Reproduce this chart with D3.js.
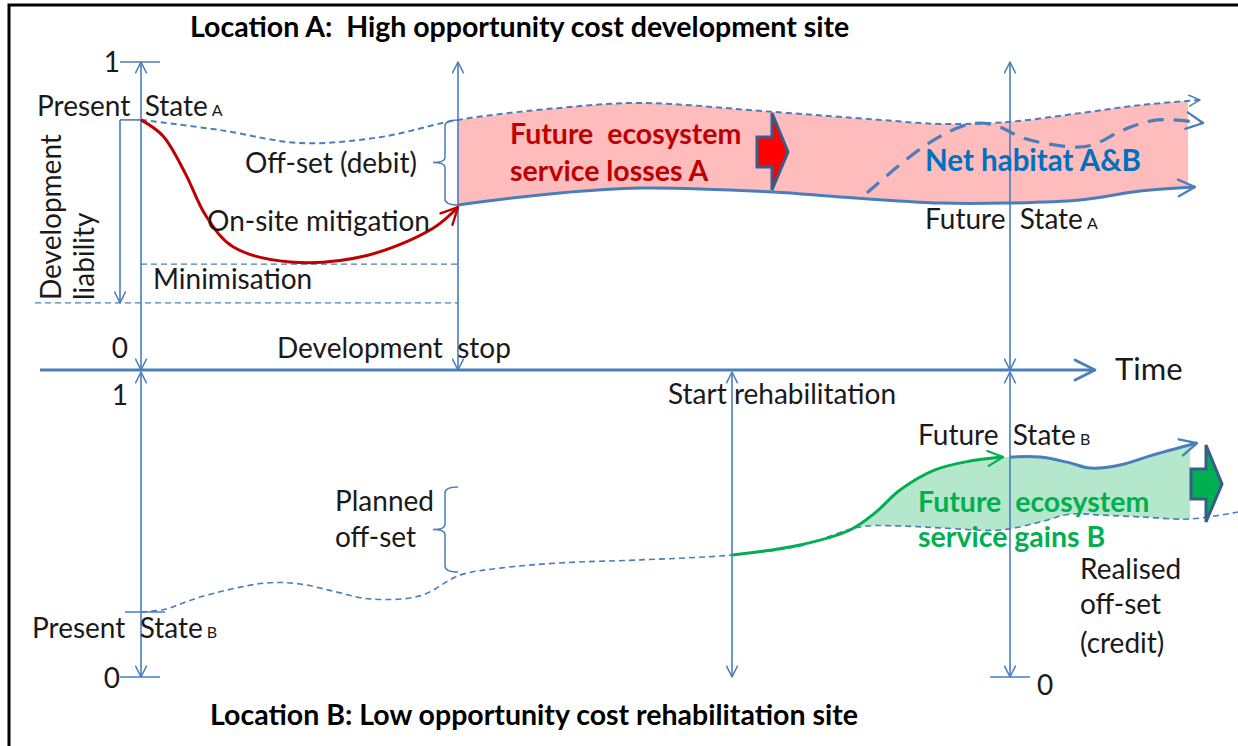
<!DOCTYPE html>
<html>
<head>
<meta charset="utf-8">
<script src="https://cdn.jsdelivr.net/npm/d3@7"></script>
<style>
  body { margin: 0; background: #fff; }
  text { font-family: Lato, "Open Sans", sans-serif; white-space: pre; }
</style>
</head>
<body>
<svg id="chart" width="1238" height="746"></svg>
<script>
// time runs in arbitrary units, both panels measure 0..1 ecosystem value
var tPresent = 0, tStop = 31.7, tRehab = 59.1, tFuture = 86.9;
var timeAxisFrom = -10.1, timeAxisTo = 95.4;
var presentA = 0.812, minimisationA = 0.344, liabilityA = 0.218;
var presentB = 0.213;

// location A: value without development (dashed)
var baselineA = [[0, 0.812], [7.9, 0.779], [15.9, 0.737], [23.9, 0.756], [31.7, 0.812], [41.9, 0.851],
  [49.9, 0.867], [63.2, 0.838], [73.9, 0.812], [79.9, 0.799], [86.6, 0.805], [93.9, 0.834],
  [99.9, 0.860], [105.9, 0.877]];
// location A: on-site mitigation path
var mitigationA = [[0, 0.812], [2.2, 0.760], [4.4, 0.640], [6.5, 0.500], [9.2, 0.400], [14.9, 0.351],
  [22.6, 0.372], [29.2, 0.460], [31.7, 0.529]];
// location A: future state after development
var futureA = [[31.7, 0.536], [41.9, 0.575], [49.9, 0.591], [63.2, 0.578], [69.9, 0.562], [79.9, 0.542],
  [86.6, 0.542], [93.9, 0.552], [99.9, 0.581], [105.4, 0.594]];
// net habitat A&B
var netHabitat = [[72.6, 0.575], [78.2, 0.724], [81.9, 0.789], [83.9, 0.802], [85.9, 0.789], [88.2, 0.753],
  [93.2, 0.724], [95.2, 0.731], [98.2, 0.779], [101.6, 0.812], [106.2, 0.802]];
var pinkEnd = 104.7;

// location B: value without rehabilitation (dashed)
var baselineB = [[0, 0.213], [2.4, 0.222], [5.9, 0.262], [12.4, 0.308], [15.9, 0.305], [19.4, 0.280],
  [22.9, 0.256], [27.9, 0.266], [31.9, 0.334], [35.9, 0.357], [41.9, 0.374], [49.9, 0.384],
  [59.1, 0.400], [65.9, 0.430], [71.9, 0.492], [75.9, 0.495], [79.9, 0.489], [85.9, 0.482],
  [89.9, 0.508], [92.9, 0.534], [95.9, 0.531], [99.9, 0.525], [104.9, 0.518], [109.7, 0.541]];
// location B: rehabilitation path
var rehabB = [[59.1, 0.400], [65.9, 0.433], [70.9, 0.482], [73.4, 0.538], [75.9, 0.613], [79.4, 0.679],
  [82.9, 0.708], [86.2, 0.721]];
// location B: future state
var futureB = [[86.9, 0.721], [89.9, 0.721], [92.9, 0.702], [94.9, 0.685], [97.9, 0.695], [100.9, 0.725],
  [105.6, 0.767]];
var greenFrom = 66, greenEnd = 104.9;

var blue = "#4a7ebb", darkBlue = "#385d8a";

var svg = d3.select("#chart");
var x = d3.scaleLinear().domain([0, 110]).range([141, 1241]);
var yA = d3.scaleLinear().domain([0, 1]).range([370, 62]);
var yB = d3.scaleLinear().domain([0, 1]).range([677, 372]);

var lineA = d3.line().x(function(d) { return x(d[0]); }).y(function(d) { return yA(d[1]); })
  .curve(d3.curveCatmullRom.alpha(0.5));
var lineB = d3.line().x(function(d) { return x(d[0]); }).y(function(d) { return yB(d[1]); })
  .curve(d3.curveCatmullRom.alpha(0.5));

var defs = svg.append("defs");
function marker(id, color, size) {
  defs.append("marker").attr("id", id)
    .attr("viewBox", "0 0 12 12").attr("refX", 11).attr("refY", 6)
    .attr("markerWidth", size).attr("markerHeight", size)
    .attr("markerUnits", "userSpaceOnUse").attr("orient", "auto-start-reverse")
    .append("path").attr("d", "M1,1 L11,6 L1,11")
    .attr("fill", "none").attr("stroke", color).attr("stroke-width", 1.4)
    .attr("stroke-linecap", "round").attr("stroke-linejoin", "round");
}
marker("arrSmall", blue, 13);
marker("arrMid", blue, 20);
marker("arrBig", blue, 24);
marker("arrRed", "#c00000", 20);
marker("arrGreen", "#00b050", 18);

function clip(id, t0, t1) {
  defs.append("clipPath").attr("id", id).append("rect")
    .attr("x", x(t0)).attr("y", 0).attr("width", x(t1) - x(t0)).attr("height", 746);
}
clip("clipPink", tStop, pinkEnd);
clip("clipGreen", greenFrom, greenEnd);

// frame
svg.append("path").attr("d", "M9,746 V5 H1238").attr("fill", "none").attr("stroke", "#000").attr("stroke-width", 3);

// fills
function band(gen, top, bottom) {
  return gen(top) + gen(bottom.slice().reverse()).replace("M", "L") + "Z";
}
svg.append("path")
  .attr("d", band(lineA, baselineA.filter(function(d) { return d[0] >= tStop; }), futureA))
  .attr("fill", "#ffbcbc").attr("clip-path", "url(#clipPink)");
svg.append("path")
  .attr("d", band(lineB, rehabB.concat(futureB), baselineB.filter(function(d) { return d[0] >= tRehab; })))
  .attr("fill", "#b4e7cb").attr("clip-path", "url(#clipGreen)");

// thin dashed guides
function hDash(y, x0, x1) {
  svg.append("line").attr("x1", x0).attr("x2", x1).attr("y1", y).attr("y2", y)
    .attr("stroke", blue).attr("stroke-width", 1.3).attr("stroke-dasharray", "6,4");
}
hDash(yA(minimisationA), x(tPresent), x(tStop));
hDash(yA(liabilityA), 35, x(tStop));

// baselines
svg.append("path").attr("d", lineA(baselineA)).attr("fill", "none").attr("stroke", blue)
  .attr("stroke-width", 2).attr("stroke-dasharray", "6,4").attr("marker-end", "url(#arrSmall)");
svg.append("path").attr("d", lineB(baselineB)).attr("fill", "none").attr("stroke", blue)
  .attr("stroke-width", 1.6).attr("stroke-dasharray", "6,4");

// vertical axes
function vLine(xp, y1, y2, both) {
  svg.append("line").attr("x1", xp).attr("x2", xp).attr("y1", y1).attr("y2", y2)
    .attr("stroke", blue).attr("stroke-width", 1.6)
    .attr("marker-start", both ? "url(#arrSmall)" : null)
    .attr("marker-end", "url(#arrSmall)");
}
function hTick(y, x0, x1) {
  svg.append("line").attr("x1", x0).attr("x2", x1).attr("y1", y).attr("y2", y)
    .attr("stroke", blue).attr("stroke-width", 1.6);
}
vLine(x(tPresent), yA(1), yA(0), true);
vLine(x(tPresent), yB(1), yB(0), true);
vLine(x(tStop), yA(1), yA(0), true);
vLine(x(tRehab), yB(1), yB(0), true);
vLine(x(tFuture), yA(1), yA(0), true);
vLine(x(tFuture), yB(1), yB(0), true);
hTick(yA(1), x(tPresent) - 21, x(tPresent) + 19);
hTick(yB(0), x(tPresent) - 21, x(tPresent) + 19);
hTick(yB(0), x(tFuture) - 20, x(tFuture) + 20);
hTick(yB(presentB), x(tPresent) - 16, x(tPresent) + 24);
hTick(yA(presentA), x(tPresent) - 21, x(tPresent));
// development liability arrow
svg.append("line").attr("x1", x(tPresent) - 21).attr("x2", x(tPresent) - 21)
  .attr("y1", yA(presentA)).attr("y2", yA(liabilityA))
  .attr("stroke", blue).attr("stroke-width", 1.6).attr("marker-end", "url(#arrSmall)");

// time axis
svg.append("line").attr("x1", x(timeAxisFrom)).attr("x2", x(timeAxisTo)).attr("y1", yA(0)).attr("y2", yA(0))
  .attr("stroke", blue).attr("stroke-width", 3).attr("marker-end", "url(#arrBig)");

// braces
function brace(xp, top, bottom) {
  var mid = (top + bottom) / 2;
  var p = d3.path();
  p.moveTo(xp + 13, top);
  p.quadraticCurveTo(xp, top, xp, top + 6);
  p.lineTo(xp, mid - 5);
  p.quadraticCurveTo(xp, mid, xp - 12, mid);
  p.quadraticCurveTo(xp, mid, xp, mid + 5);
  p.lineTo(xp, bottom - 6);
  p.quadraticCurveTo(xp, bottom, xp + 13, bottom);
  svg.append("path").attr("d", p.toString()).attr("fill", "none")
    .attr("stroke", blue).attr("stroke-width", 1.5);
}
brace(x(tStop) - 13, yA(baselineA[4][1]), yA(futureA[0][1]));
brace(x(tStop) - 13, 487, yB(0.344));

// curves
svg.append("path").attr("d", lineA(futureA)).attr("fill", "none").attr("stroke", blue)
  .attr("stroke-width", 3).attr("marker-end", "url(#arrMid)");
svg.append("path").attr("d", lineA(netHabitat)).attr("fill", "none").attr("stroke", blue)
  .attr("stroke-width", 3.2).attr("stroke-dasharray", "16,10").attr("marker-end", "url(#arrMid)");
svg.append("path").attr("d", lineA(mitigationA)).attr("fill", "none").attr("stroke", "#c00000")
  .attr("stroke-width", 3).attr("marker-end", "url(#arrRed)");
svg.append("path").attr("d", lineB(rehabB)).attr("fill", "none").attr("stroke", "#00b050")
  .attr("stroke-width", 3).attr("marker-end", "url(#arrGreen)");
svg.append("path").attr("d", lineB(futureB)).attr("fill", "none").attr("stroke", blue)
  .attr("stroke-width", 3).attr("marker-end", "url(#arrMid)");

// block arrows
function blockArrow(cx, cy, fill) {
  var pts = [[-15, -15], [0, -15], [0, -39], [16, 0], [0, 38], [0, 15], [-15, 15]];
  svg.append("path")
    .attr("d", d3.line()(pts.map(function(p) { return [cx + p[0], cy + p[1]]; })) + "Z")
    .attr("fill", fill).attr("stroke", darkBlue).attr("stroke-width", 3).attr("stroke-linejoin", "miter");
}
blockArrow(772, 152, "#ff0000");
blockArrow(1206, 484, "#00b050");

// text
function label(txt, px, py, opts) {
  opts = opts || {};
  var t = svg.append("text").attr("x", px).attr("y", py)
    .attr("font-size", opts.size || 28)
    .attr("font-weight", opts.bold ? "bold" : null)
    .attr("fill", opts.color || "#1a1a1a")
    .attr("text-anchor", opts.anchor || "start")
    .text(txt);
  if (opts.sub) {
    t.append("tspan").attr("font-size", 16).attr("dx", 4).text(opts.sub);
  }
  return t;
}
label("Location A:  High opportunity cost development site", 190, 37, { size: 28.5, bold: true, color: "#000" });
label("Location B: Low opportunity cost rehabilitation site", 210, 725, { size: 28.5, bold: true, color: "#000" });
label("1", 120, 72, { anchor: "end" });
label("0", 128, 358, { anchor: "end" });
label("1", 128, 405, { anchor: "end" });
label("0", 120, 688, { anchor: "end" });
label("0", 1037, 695);
label("Present  State", 37, 116, { sub: "A" });
label("Off-set (debit)", 245, 173);
label("On-site mitigation", 207, 231);
label("Minimisation", 153, 289);
label("Development  stop", 277, 358);
label("Future  ecosystem", 510, 144, { size: 28.5, bold: true, color: "#c00000" });
label("service losses A", 510, 181, { size: 28.5, bold: true, color: "#c00000" });
label("Net habitat A&B", 925, 171, { size: 29.5, bold: true, color: "#0070c0" });
label("Future  State", 925, 229, { sub: "A" });
label("Time", 1115, 380, { size: 31 });
label("Start rehabilitation", 668, 404);
label("Future  State", 918, 445, { sub: "B" });
label("Planned", 335, 511);
label("off-set", 335, 547);
label("Future  ecosystem", 918, 512, { size: 28.5, bold: true, color: "#00b050" });
label("service gains B", 918, 547, { size: 28.5, bold: true, color: "#00b050" });
label("Realised", 1080, 579);
label("off-set", 1080, 614);
label("(credit)", 1080, 653);
label("Present  State", 32, 638, { sub: "B" });

svg.append("text").attr("transform", "translate(61,300) rotate(-90)")
  .attr("font-size", 28).attr("fill", "#1a1a1a").text("Development");
svg.append("text").attr("transform", "translate(94,300) rotate(-90)")
  .attr("font-size", 28).attr("fill", "#1a1a1a").text("liability");
</script>
</body>
</html>
